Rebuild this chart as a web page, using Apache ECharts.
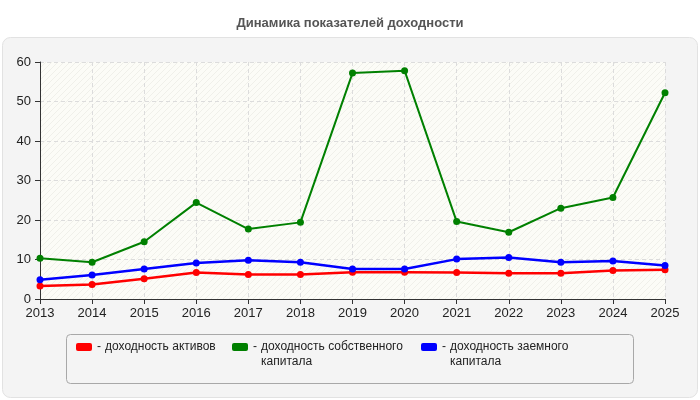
<!DOCTYPE html>
<html>
<head>
<meta charset="utf-8">
<script src="https://cdn.jsdelivr.net/npm/echarts@6/dist/echarts.min.js"></script>
<style>
html, body { margin:0; padding:0; background:#fff; }
#main { width:700px; height:400px; }
</style>
</head>
<body>
<div id="main"></div>
<script>
var years = ['2013','2014','2015','2016','2017','2018','2019','2020','2021','2022','2023','2024','2025'];
var assets = [3.3, 3.7, 5.1, 6.7, 6.2, 6.2, 6.8, 6.8, 6.7, 6.5, 6.5, 7.2, 7.4];
var equity = [10.3, 9.3, 14.5, 24.4, 17.7, 19.4, 57.2, 57.8, 19.6, 16.9, 23.0, 25.7, 52.2];
var borrowed = [4.9, 6.1, 7.6, 9.1, 9.8, 9.3, 7.6, 7.6, 10.1, 10.5, 9.3, 9.6, 8.5];
var names = ['доходность активов', 'доходность собственного капитала', 'доходность заемного капитала'];
var colors = ['#ff0000', '#008000', '#0000ff'];

// hatch pattern for plot background
function hatch() {
	var c = document.createElement('canvas');
	c.width = 6; c.height = 6;
	var g = c.getContext('2d');
	g.fillStyle = '#fcfcf7';
	g.fillRect(0, 0, 6, 6);
	g.strokeStyle = '#f0f0ea';
	g.lineWidth = 1;
	g.beginPath();
	g.moveTo(0, 6); g.lineTo(6, 0);
	g.moveTo(-3, 3); g.lineTo(3, -3);
	g.moveTo(3, 9); g.lineTo(9, 3);
	g.stroke();
	return c;
}

function legendItem(i, left, lines) {
	return {
		data: [names[i]],
		left: left,
		top: 341,
		itemWidth: 16,
		itemHeight: 8,
		itemGap: 0,
		padding: 0,
		icon: 'roundRect',
		selectedMode: false,
		formatter: function () {
			var s = '{d|- }{t|' + lines[0] + '}';
			if (lines[1]) s += '\n{e|}{t|' + lines[1] + '}';
			return s;
		},
		textStyle: {
			padding: lines[1] ? [15, 0, 0, 0] : 0,
			rich: {
				d: { fontSize: 12, color: '#222', width: 8, fontFamily: 'Liberation Sans, Arial' },
				e: { width: 8 },
				t: { fontSize: 12, color: '#222', lineHeight: 15, fontFamily: 'Liberation Sans, Arial' }
			}
		}
	};
}

var myChart = echarts.init(document.getElementById('main'));

var option = {
	animation: false,
	backgroundColor: '#ffffff',
	textStyle: { fontFamily: 'Liberation Sans, Arial' },
	title: {
		text: 'Динамика показателей доходности',
		left: 'center',
		top: 12,
		textStyle: { fontSize: 13, fontWeight: 'bold', color: '#555', fontFamily: 'Liberation Sans, Arial' }
	},
	graphic: [
		{ type: 'rect', z: -10, shape: { x: 2.5, y: 37.5, width: 695, height: 360, r: 8 },
		  style: { fill: '#f4f4f4', stroke: '#e2e2e2', lineWidth: 1 } },
		{ type: 'rect', z: -9, shape: { x: 66.5, y: 334.5, width: 567, height: 49, r: 4 },
		  style: { fill: '#f4f4f4', stroke: '#a8a8a8', lineWidth: 1 } }
	],
	legend: [
		legendItem(0, 76, ['доходность активов']),
		legendItem(1, 232, ['доходность собственного', 'капитала']),
		legendItem(2, 421, ['доходность заемного', 'капитала'])
	],
	grid: {
		left: 40, right: 35, top: 62, bottom: 101,
		show: true,
		borderWidth: 0,
		backgroundColor: { image: hatch(), repeat: 'repeat' }
	},
	xAxis: {
		type: 'category',
		data: years,
		boundaryGap: false,
		axisLine: { lineStyle: { color: '#333', width: 1 } },
		axisTick: { show: true, length: 5, lineStyle: { color: '#333' } },
		axisLabel: { color: '#222', fontSize: 13, margin: 8 },
		splitLine: { show: true, lineStyle: { color: '#dcdcdc', type: [4, 3] } }
	},
	yAxis: {
		type: 'value',
		min: 0, max: 60, interval: 10,
		axisLine: { show: true, lineStyle: { color: '#333', width: 1 } },
		axisTick: { show: true, length: 5, lineStyle: { color: '#333' } },
		axisLabel: { color: '#222', fontSize: 13, margin: 9 },
		splitLine: { show: true, lineStyle: { color: '#dcdcdc', type: [4, 3] } }
	},
	series: [
		{ name: names[0], type: 'line', data: assets, symbol: 'circle', symbolSize: 7,
		  lineStyle: { color: colors[0], width: 2.5 }, itemStyle: { color: colors[0] }, z: 3 },
		{ name: names[1], type: 'line', data: equity, symbol: 'circle', symbolSize: 7,
		  lineStyle: { color: colors[1], width: 2 }, itemStyle: { color: colors[1] }, z: 2 },
		{ name: names[2], type: 'line', data: borrowed, symbol: 'circle', symbolSize: 7,
		  lineStyle: { color: colors[2], width: 2.5 }, itemStyle: { color: colors[2] }, z: 4 }
	]
};
myChart.setOption(option);
</script>
</body>
</html>
